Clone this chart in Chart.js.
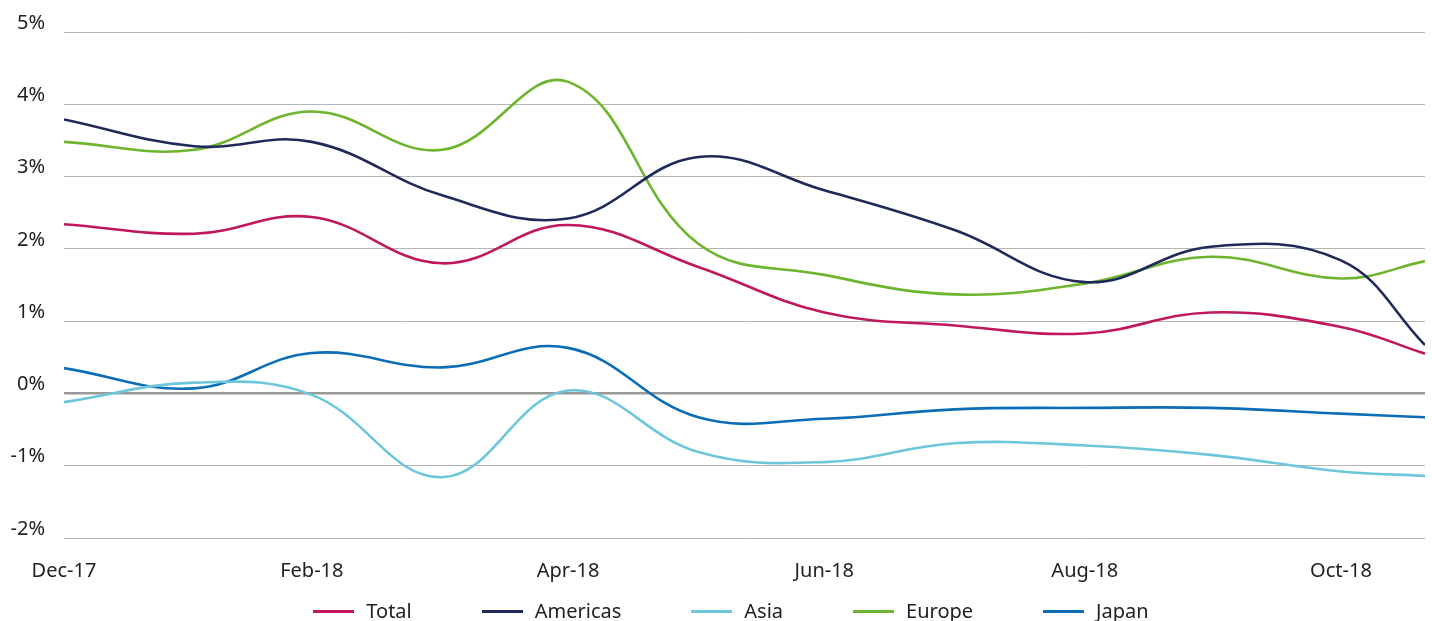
<!DOCTYPE html>
<html>
<head>
<meta charset="utf-8">
<script src="https://cdn.jsdelivr.net/npm/chart.js@4.4.1/dist/chart.umd.min.js"></script>
<style>
  html, body { margin: 0; padding: 0; background: #fff; }
  #wrap { position: relative; width: 1432px; height: 621px; }
  #legend {
    position: absolute; left: 0; top: 599px; width: 1432px; height: 24px;
    display: flex; justify-content: center; padding-left: 30px; box-sizing: border-box;
    font-family: "Noto Sans", sans-serif; font-size: 20px; color: #222; line-height: 24px;
  }
  .item { display: flex; align-items: center; margin: 0 35px; }
  .item span.ln { display: inline-block; width: 41px; height: 3px; margin-right: 12px; }
</style>
</head>
<body>
<div id="wrap">
  <canvas id="chart" width="1432" height="621"></canvas>
  <div id="legend"></div>
</div>
<script>
// days after 31 Dec 2017 (month-end points, last one mid-November)
var dayOffsets = [0, 31, 59, 90, 120, 151, 181, 212, 243, 273, 304, 324];
var tickDays = [0, 59, 120, 181, 243, 304];
var tickLabels = ['Dec-17', 'Feb-18', 'Apr-18', 'Jun-18', 'Aug-18', 'Oct-18'];

var seriesNames = ['Total', 'Americas', 'Asia', 'Europe', 'Japan'];
var seriesColors = ['#c0175d', '#1f2a5a', '#6ec6dc', '#6cb52d', '#0b6db5'];

var total    = [2.34, 2.21, 2.44, 1.80, 2.33, 1.75, 1.12, 0.94, 0.83, 1.12, 0.92, 0.55];
var americas = [3.79, 3.42, 3.48, 2.74, 2.42, 3.27, 2.81, 2.26, 1.54, 2.03, 1.84, 0.67];
var asia     = [-0.12, 0.15, -0.02, -1.16, 0.04, -0.81, -0.95, -0.69, -0.72, -0.85, -1.08, -1.14];
var europe   = [3.48, 3.37, 3.90, 3.37, 4.31, 2.07, 1.64, 1.37, 1.52, 1.89, 1.59, 1.83];
var japan    = [0.35, 0.07, 0.56, 0.36, 0.63, -0.33, -0.35, -0.22, -0.20, -0.20, -0.28, -0.33];

var seriesValues = [total, americas, asia, europe, japan];

function toPoints(vals) {
  return vals.map(function(v, i) { return { x: dayOffsets[i], y: v }; });
}

var datasets = seriesNames.map(function(name, i) {
  return {
    label: name,
    data: toPoints(seriesValues[i]),
    borderColor: seriesColors[i],
    backgroundColor: seriesColors[i],
    borderWidth: 2.6,
    pointRadius: 0,
    tension: 0.4,
    fill: false
  };
});

Chart.defaults.font.family = '"Noto Sans", sans-serif';
Chart.defaults.font.size = 20;
Chart.defaults.color = '#222';

new Chart(document.getElementById('chart'), {
  type: 'line',
  data: { datasets: datasets },
  options: {
    responsive: false,
    animation: false,
    layout: { padding: { top: 32, right: 7, bottom: 0, left: 0 } },
    plugins: { legend: { display: false }, tooltip: { enabled: false } },
    scales: {
      x: {
        type: 'linear',
        min: 0,
        max: 324,
        grid: { display: false, drawTicks: false },
        border: { display: false },
        afterBuildTicks: function(axis) {
          axis.ticks = tickDays.map(function(d) { return { value: d }; });
        },
        afterFit: function(axis) { axis.height = 83; },
        ticks: {
          padding: 21,
          maxRotation: 0,
          autoSkip: false,
          callback: function(value) {
            var k = tickDays.indexOf(value);
            return k >= 0 ? tickLabels[k] : '';
          }
        }
      },
      y: {
        min: -2,
        max: 5,
        afterFit: function(axis) { axis.width = 64; },
        border: { display: false },
        grid: {
          drawTicks: false,
          color: function(ctx) { return ctx.tick && ctx.tick.value === 0 ? '#999999' : '#b5b5b5'; },
          lineWidth: function(ctx) { return ctx.tick && ctx.tick.value === 0 ? 2.5 : 1; }
        },
        ticks: {
          stepSize: 1,
          padding: 19,
          labelOffset: -9,
          callback: function(v) { return v + '%'; }
        }
      }
    }
  }
});

var legend = document.getElementById('legend');
seriesNames.forEach(function(name, i) {
  var item = document.createElement('div');
  item.className = 'item';
  var ln = document.createElement('span');
  ln.className = 'ln';
  ln.style.background = seriesColors[i];
  item.appendChild(ln);
  item.appendChild(document.createTextNode(name));
  legend.appendChild(item);
});
</script>
</body>
</html>
